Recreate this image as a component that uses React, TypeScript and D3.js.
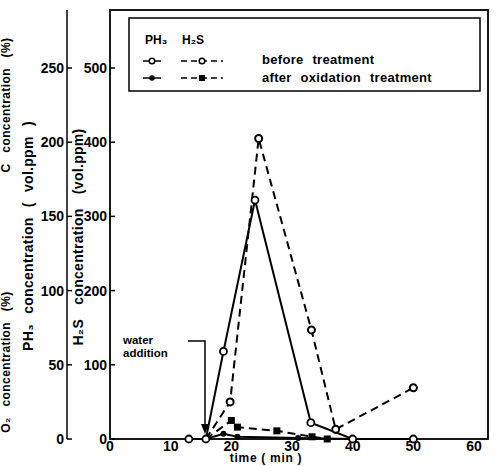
import React from "react"
import * as d3 from "d3"

// time (min) and concentrations (vol.ppm)
const ph3BeforeT = [13, 15.8, 18.7, 23.9, 33.1, 40, 50]
const ph3BeforeV = [0, 0, 59, 161, 11, 0, 0]

const h2sBeforeT = [15.8, 19.8, 24.5, 33.2, 37.2, 50]
const h2sBeforeV = [0, 50, 405, 147, 13, 69]

const ph3AfterT = [15.8, 18.7, 21, 31, 40]
const ph3AfterV = [0, 3.5, 1.5, 0.6, 0]

const h2sAfterT = [15.8, 20, 21, 27.5, 33.3, 35.8]
const h2sAfterV = [0, 25, 16, 11, 3, 0]

const xTicks = [0, 10, 20, 30, 40, 50, 60]
const ph3Ticks = [0, 50, 100, 150, 200, 250]
const h2sTicks = [0, 100, 200, 300, 400, 500]

const FONT = "'Liberation Sans', Arial, sans-serif"

const App = () => {
    const x = d3.scaleLinear().domain([0, 62.3]).range([110, 488])
    const yH = d3.scaleLinear().domain([0, 500]).range([439, 68])
    const yP = d3.scaleLinear().domain([0, 250]).range([439, 68])

    const zip = (t: number[], v: number[]) => t.map((d, i) => [d, v[i]] as [number, number])

    const lineP = d3.line<[number, number]>().x((d) => x(d[0])).y((d) => yP(d[1]))
    const lineH = d3.line<[number, number]>().x((d) => x(d[0])).y((d) => yH(d[1]))

    const ph3Before = zip(ph3BeforeT, ph3BeforeV)
    const h2sBefore = zip(h2sBeforeT, h2sBeforeV)
    const ph3After = zip(ph3AfterT, ph3AfterV)
    const h2sAfter = zip(h2sAfterT, h2sAfterV)

    const dash = "8,5"
    const top = 10
    const bottom = yH(0)
    const pre = { whiteSpace: "pre" as const }

    return (
        <svg width={496} height={466} style={{ position: "absolute", left: 0, top: 0, background: "#fff" }}
            fontFamily={FONT} fontWeight="bold">
            {/* axis titles running off the left edge */}
            <text transform="translate(10,105) rotate(-90)" fontSize={12} textAnchor="middle"
                wordSpacing={7} letterSpacing={0.4}>
                C concentration (%)
            </text>
            <text transform="translate(10,362) rotate(-90)" fontSize={12} textAnchor="middle"
                wordSpacing={7} letterSpacing={0.4}>
                O₂ concentration (%)
            </text>

            {/* axis titles */}
            <text transform="translate(33,236) rotate(-90)" fontSize={14} textAnchor="middle"
                wordSpacing={6} letterSpacing={0.3} style={pre}>
                {"PH₃ concentration ( vol.ppm )"}
            </text>
            <text transform="translate(83,237) rotate(-90)" fontSize={14} textAnchor="middle"
                wordSpacing={10} letterSpacing={0.3}>
                H₂S concentration (vol.ppm)
            </text>

            {/* PH3 axis */}
            <line x1={67} x2={67} y1={top} y2={bottom} stroke="#000" strokeWidth={1.5} />
            {ph3Ticks.map((t) => (
                <g key={"p" + t}>
                    <line x1={67} x2={72} y1={yP(t)} y2={yP(t)} stroke="#000" strokeWidth={1.5} />
                    <text x={64} y={yP(t) + 5} fontSize={14} textAnchor="end">{t}</text>
                </g>
            ))}

            {/* plot frame / H2S axis */}
            <rect x={110} y={top} width={488 - 110} height={bottom - top} fill="none" stroke="#000" strokeWidth={1.8} />
            {h2sTicks.map((t) => (
                <g key={"h" + t}>
                    <line x1={110} x2={115} y1={yH(t)} y2={yH(t)} stroke="#000" strokeWidth={1.5} />
                    <text x={107} y={yH(t) + 5} fontSize={14} textAnchor="end">{t}</text>
                </g>
            ))}
            {xTicks.map((t) => (
                <text key={"x" + t} x={x(t)} y={451} fontSize={14} textAnchor="middle">{t}</text>
            ))}
            <text x={266} y={462} fontSize={12} textAnchor="middle" letterSpacing={0.7} style={pre}>
                {"time ( min )"}
            </text>

            {/* legend */}
            <rect x={129} y={18} width={351} height={73} fill="#fff" stroke="#000" strokeWidth={1.5} />
            <text x={145} y={44} fontSize={12}>PH₃</text>
            <text x={182} y={44} fontSize={12}>H₂S</text>
            <line x1={143} x2={161} y1={61} y2={61} stroke="#000" strokeWidth={1.5} />
            <circle cx={152} cy={61} r={2.8} fill="#fff" stroke="#000" strokeWidth={1.5} />
            <line x1={181} x2={223} y1={61} y2={61} stroke="#000" strokeWidth={1.5} strokeDasharray="6,4" />
            <circle cx={202} cy={61} r={2.8} fill="#fff" stroke="#000" strokeWidth={1.5} />
            <line x1={143} x2={161} y1={78} y2={78} stroke="#000" strokeWidth={1.5} />
            <circle cx={152} cy={78} r={2.8} fill="#000" />
            <line x1={181} x2={223} y1={78} y2={78} stroke="#000" strokeWidth={1.5} strokeDasharray="6,4" />
            <rect x={199} y={75} width={6} height={6} fill="#000" />
            <text x={262} y={64} fontSize={13} wordSpacing={5} letterSpacing={0.3}>before treatment</text>
            <text x={262} y={82} fontSize={13} wordSpacing={5} letterSpacing={0.3}>after oxidation treatment</text>

            {/* water addition marker */}
            <text x={123} y={344} fontSize={11.5}>water</text>
            <text x={123} y={357} fontSize={11.5}>addition</text>
            <path d="M188,341 H205 V428" fill="none" stroke="#000" strokeWidth={1.5} />
            <path d="M201,424 L205,434 L209,424 Z" fill="#000" />

            {/* series */}
            <path d={lineP(ph3Before) || ""} fill="none" stroke="#000" strokeWidth={2} />
            <path d={lineH(h2sBefore) || ""} fill="none" stroke="#000" strokeWidth={2} strokeDasharray={dash} />
            <path d={lineP(ph3After) || ""} fill="none" stroke="#000" strokeWidth={2} />
            <path d={lineH(h2sAfter) || ""} fill="none" stroke="#000" strokeWidth={2} strokeDasharray={dash} />

            {ph3After.slice(1, -1).map((d, i) => (
                <circle key={"pa" + i} cx={x(d[0])} cy={yP(d[1])} r={3} fill="#000" />
            ))}
            {h2sAfter.slice(1).map((d, i) => (
                <rect key={"ha" + i} x={x(d[0]) - 3.5} y={yH(d[1]) - 3.5} width={7} height={7} fill="#000" />
            ))}
            {h2sBefore.slice(1).map((d, i) => (
                <circle key={"hb" + i} cx={x(d[0])} cy={yH(d[1])} r={3.5} fill="#fff" stroke="#000" strokeWidth={2} />
            ))}
            {ph3Before.map((d, i) => (
                <circle key={"pb" + i} cx={x(d[0])} cy={yP(d[1])} r={3.5} fill="#fff" stroke="#000" strokeWidth={1.8} />
            ))}
        </svg>
    )
}

export default App
